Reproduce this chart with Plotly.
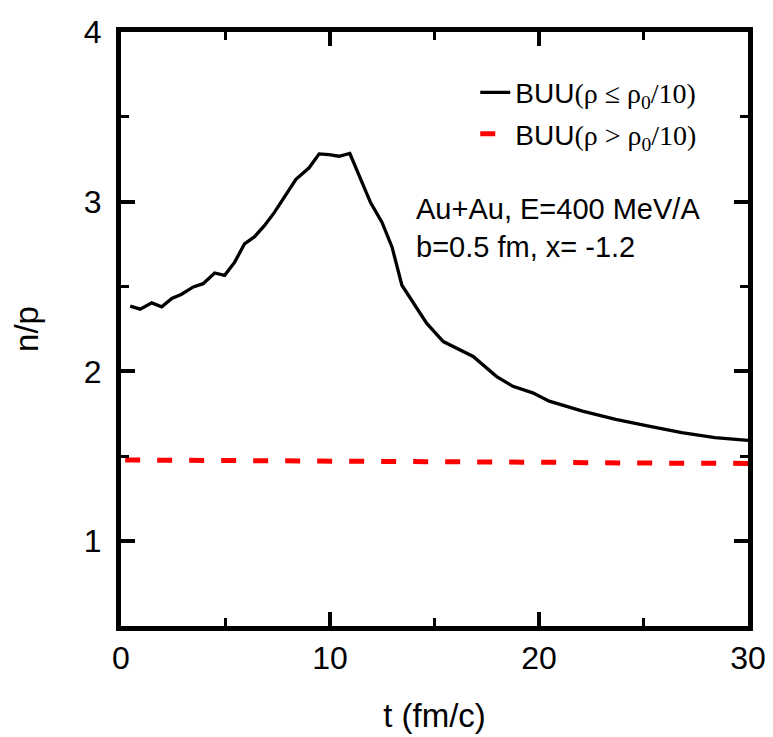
import plotly.graph_objects as go

# BUU(rho <= rho0/10) — black solid
t_low = [0.44, 0.92, 1.47, 1.95, 2.43, 2.90, 3.46, 3.93, 4.48, 4.96, 5.44, 5.91, 6.39, 6.86,
         7.34, 7.81, 8.37, 9.00, 9.48, 9.95, 10.43, 10.95, 11.46, 11.94, 12.49, 12.97, 13.44,
         13.99, 14.63, 15.42, 16.21, 16.85, 17.96, 18.75, 19.70, 20.49, 22.08, 23.67, 25.25,
         26.83, 28.42, 29.85, 30.0]
np_low = [2.385, 2.367, 2.404, 2.381, 2.430, 2.455, 2.498, 2.517, 2.580, 2.566, 2.644, 2.752,
          2.794, 2.859, 2.937, 3.024, 3.132, 3.200, 3.282, 3.278, 3.268, 3.284, 3.141, 2.995,
          2.878, 2.732, 2.508, 2.400, 2.283, 2.176, 2.127, 2.088, 1.971, 1.912, 1.874, 1.825,
          1.766, 1.717, 1.678, 1.640, 1.610, 1.596, 1.594]

# BUU(rho > rho0/10) — red dashed
t_high = [0.2, 5.0, 10.0, 15.0, 20.0, 25.0, 30.0]
np_high = [1.478, 1.476, 1.474, 1.470, 1.465, 1.460, 1.458]

x_ticks = [0, 10, 20, 30]
y_ticks = [1, 2, 3, 4]

SANS = "Arial, Liberation Sans, sans-serif"
SERIF = "Times New Roman, Liberation Serif, serif"

name_low = ("BUU<span style='font-family:" + SERIF + "'>(ρ ≤ ρ<sub>0</sub>/10)</span>")
name_high = ("BUU<span style='font-family:" + SERIF + "'>(ρ > ρ<sub>0</sub>/10)</span>")

fig = go.Figure()
fig.add_trace(go.Scatter(x=t_low, y=np_low, mode="lines", name=name_low, legendgroup="a",
                         line=dict(color="black", width=3.3)))
fig.add_trace(go.Scatter(x=t_high, y=np_high, mode="lines", name=name_high, legendgroup="b",
                         line=dict(color="#ff0000", width=5, dash="15px,17px")))

axis_common = dict(
    showline=True, linewidth=5, linecolor="black", mirror="allticks",
    ticks="inside", tickwidth=4, tickcolor="black", ticklen=14,
    showgrid=False, zeroline=False, automargin=False,
    tickfont=dict(family=SANS, size=32, color="black"),
)

fig.update_xaxes(range=[0, 30], tickvals=x_ticks, ticklabelstandoff=0,
                 minor=dict(dtick=5, ticks="inside", ticklen=8, tickwidth=3, tickcolor="black", showgrid=False),
                 title=dict(text="t (fm/c)", font=dict(family=SANS, size=33, color="black"), standoff=30),
                 **axis_common)
fig.update_yaxes(range=[0.5, 4], tickvals=y_ticks, ticklabelstandoff=8,
                 minor=dict(dtick=0.5, ticks="inside", ticklen=8, tickwidth=3, tickcolor="black", showgrid=False),
                 title=dict(text="n/p", font=dict(family=SANS, size=33, color="black"), standoff=42),
                 **axis_common)

fig.add_annotation(xref="paper", yref="paper", x=0.468, y=0.67, xanchor="left", yanchor="middle",
                   text="Au+Au, E=400 MeV/A<br>b=0.5 fm, x= -1.2", showarrow=False, align="left",
                   font=dict(family=SANS, size=29, color="black"))

# the page body has an 8px default margin, so the figure is sized to fit the window
fig.update_layout(
    width=765, height=729,
    margin=dict(l=113, r=25, t=24, b=111),
    plot_bgcolor="white", paper_bgcolor="white",
    showlegend=True,
    legend=dict(x=0.565, y=0.94, xanchor="left", yanchor="top", bgcolor="rgba(0,0,0,0)",
                font=dict(family=SANS, size=28, color="black"), tracegroupgap=2),
)

fig.write_html("out.html")
